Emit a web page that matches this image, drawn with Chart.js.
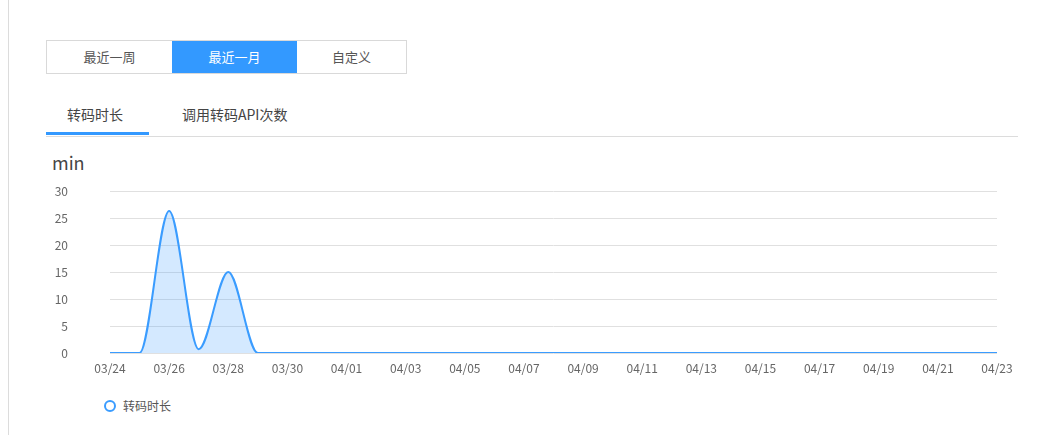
<!DOCTYPE html>
<html>
<head>
<meta charset="utf-8">
<script src="https://cdn.jsdelivr.net/npm/chart.js@4/dist/chart.umd.min.js"></script>
<style>
  body { margin: 0; width: 1042px; height: 435px; background: #fff; overflow: hidden;
         font-family: "Microsoft YaHei", "Noto Sans CJK SC", sans-serif; position: relative; }
  .side-line { position: absolute; left: 8px; top: 0; width: 1px; height: 435px; background: #dcdcdc; }
  .btn-group { position: absolute; left: 46px; top: 40px; height: 34px; display: flex;
               border: 1px solid #d9d9d9; box-sizing: border-box; }
  .btn-group div { height: 32px; line-height: 32px; text-align: center; font-size: 13px; color: #555; }
  .btn-group .active { background: #3399ff; color: #fff; }
  .tabs { position: absolute; left: 46px; top: 100px; width: 972px; height: 36px; border-bottom: 1px solid #dcdcdc; }
  .tab { position: absolute; top: 4px; font-size: 14px; color: #444; }
  .tab-bar { position: absolute; left: 0; top: 32px; width: 103px; height: 3px; background: #3399ff; }
  .unit { position: absolute; left: 52px; top: 149px; font-size: 18px; color: #444; }
  #durationChart { position: absolute; left: 0; top: 140px; }
  .legend { position: absolute; left: 104px; top: 397px; font-size: 12px; color: #555; display: flex; align-items: center; }
  .legend i { display: inline-block; width: 8px; height: 8px; border: 2px solid #3a9cff; border-radius: 50%; margin-right: 7px; }
</style>
</head>
<body>
<div class="side-line"></div>
<div class="btn-group">
  <div style="width:125px">最近一周</div>
  <div class="active" style="width:125px">最近一月</div>
  <div style="width:109px">自定义</div>
</div>
<div class="tabs">
  <span class="tab" style="left:21px">转码时长</span>
  <span class="tab" style="left:136px">调用转码API次数</span>
  <div class="tab-bar"></div>
</div>
<div class="unit">min</div>
<canvas id="durationChart" width="1042" height="250"></canvas>
<div class="legend" id="legend"></div>

<script>
// dates shown on the x axis (one per day)
const dates = ['03/24', '03/25', '03/26', '03/27', '03/28', '03/29', '03/30', '03/31',
  '04/01', '04/02', '04/03', '04/04', '04/05', '04/06', '04/07', '04/08', '04/09', '04/10',
  '04/11', '04/12', '04/13', '04/14', '04/15', '04/16', '04/17', '04/18', '04/19', '04/20',
  '04/21', '04/22', '04/23'];
// transcode minutes per day
const minutes = [0, 0, 26.3, 0.7, 15, 0, 0, 0, 0, 0, 0, 0, 0, 0, 0, 0, 0, 0, 0, 0, 0, 0, 0, 0, 0, 0, 0, 0, 0, 0, 0];
const seriesName = '转码时长';
const yTicks = [0, 5, 10, 15, 20, 25, 30];

const lineColor = '#3a9cff';
const fontFamily = '"Microsoft YaHei", "Noto Sans CJK SC", sans-serif';

const ctx = document.getElementById('durationChart').getContext('2d');
new Chart(ctx, {
  type: 'line',
  data: {
    labels: dates,
    datasets: [{
      label: seriesName,
      data: minutes,
      borderColor: lineColor,
      backgroundColor: 'rgba(58, 156, 255, 0.22)',
      borderWidth: 2,
      fill: true,
      pointRadius: 0,
      cubicInterpolationMode: 'monotone'
    }]
  },
  options: {
    responsive: false,
    animation: false,
    // chart area spans x 110..997, y 51..213 inside the canvas
    layout: { padding: { top: 51, right: 45, bottom: 14.6, left: 0 } },
    plugins: { legend: { display: false }, tooltip: { enabled: false } },
    scales: {
      x: {
        grid: { display: false },
        border: { display: false },
        ticks: {
          autoSkip: false,
          maxRotation: 0,
          padding: 0,
          color: '#666',
          font: { family: fontFamily, size: 12 },
          callback: (val, i) => (i % 2 === 0 ? dates[i] : '')
        }
      },
      y: {
        min: yTicks[0],
        max: yTicks[yTicks.length - 1],
        afterFit: scale => { scale.width = 110; },
        // long invisible ticks push the labels left without adding vertical padding
        grid: { color: '#e0e0e0', tickLength: 38, tickColor: 'transparent' },
        border: { display: false },
        ticks: {
          stepSize: 5,
          padding: 4,
          color: '#666',
          font: { family: fontFamily, size: 12 }
        }
      }
    }
  }
});

// legend built from the dataset label
document.getElementById('legend').innerHTML = '<i></i>' + seriesName;
</script>
</body>
</html>
